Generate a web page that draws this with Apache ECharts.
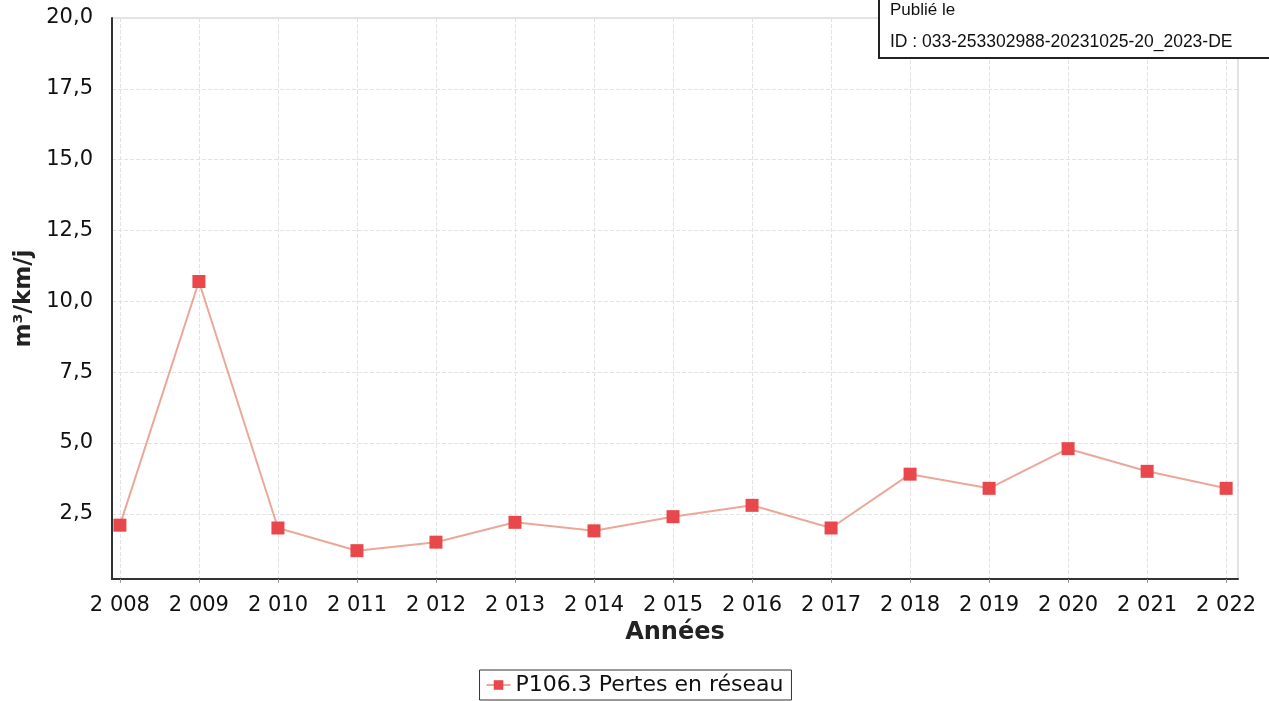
<!DOCTYPE html>
<html>
<head>
<meta charset="utf-8">
<script src="https://cdn.jsdelivr.net/npm/echarts@6/dist/echarts.min.js"></script>
<style>
  html, body { margin: 0; padding: 0; background: #fff; }
  #main { width: 1269px; height: 701px; }
</style>
</head>
<body>
<div id="main"></div>
<script>
var years = [2008, 2009, 2010, 2011, 2012, 2013, 2014, 2015, 2016, 2017, 2018, 2019, 2020, 2021, 2022];
var pertes = [2.1, 10.7, 2.0, 1.2, 1.5, 2.2, 1.9, 2.4, 2.8, 2.0, 3.9, 3.4, 4.8, 4.0, 3.4];
var yTicks = [2.5, 5, 7.5, 10, 12.5, 15, 17.5, 20];

var chart = echarts.init(document.getElementById('main'));

var font = 'DejaVu Sans';

var option = {
  backgroundColor: '#fff',
  animation: false,
  grid: {
    left: 112,
    right: 31,
    top: 18,
    bottom: 122,
    show: true,
    borderColor: '#c8c8c8',
    borderWidth: 1
  },
  xAxis: {
    type: 'value',
    min: 2007.9,
    max: 2022.15,
    name: 'Années',
    nameLocation: 'middle',
    nameGap: 42,
    nameTextStyle: { fontFamily: font, fontSize: 24, fontWeight: 'bold', color: '#222' },
    axisLine: { show: true, lineStyle: { color: '#333', width: 2 } },
    axisTick: { show: true, customValues: years, length: 4, lineStyle: { color: '#999' } },
    axisLabel: {
      customValues: years,
      margin: 16,
      fontFamily: font,
      fontSize: 21,
      color: '#111',
      formatter: function (v) {
        var s = String(Math.round(v));
        return s.charAt(0) + ' ' + s.slice(1);
      }
    },
    splitLine: { show: true, lineStyle: { color: '#e2e2e2', type: 'dashed' } }
  },
  yAxis: {
    type: 'value',
    min: 0.2,
    max: 20,
    name: 'm³/km/j',
    nameLocation: 'middle',
    nameGap: 76,
    nameTextStyle: { fontFamily: font, fontSize: 23, fontWeight: 'bold', color: '#222' },
    axisLine: { show: true, lineStyle: { color: '#333', width: 2 } },
    axisTick: { show: false, customValues: yTicks },
    axisLabel: {
      customValues: yTicks,
      margin: 19,
      fontFamily: font,
      fontSize: 21,
      color: '#111',
      formatter: function (v) {
        return v.toFixed(1).replace('.', ',');
      }
    },
    splitLine: { show: true, lineStyle: { color: '#e2e2e2', type: 'dashed' } }
  },
  legend: {
    bottom: 1,
    left: 'center',
    padding: [4, 8, 4, 6],
    borderColor: '#333',
    borderWidth: 1,
    itemWidth: 24,
    itemHeight: 12,
    itemGap: 6,
    textStyle: { fontFamily: font, fontSize: 22, color: '#111' },
    data: ['P106.3 Pertes en réseau']
  },
  graphic: [
    {
      type: 'rect',
      z: 100,
      left: 878,
      top: -2,
      shape: { width: 400, height: 59 },
      style: { fill: '#fff', stroke: '#222', lineWidth: 2 }
    },
    {
      type: 'text',
      z: 101,
      left: 890,
      top: 2,
      style: { text: 'Publié le', fontFamily: 'Liberation Sans', fontSize: 17, fill: '#111' }
    },
    {
      type: 'text',
      z: 101,
      left: 890,
      top: 33,
      style: { text: 'ID : 033-253302988-20231025-20_2023-DE', fontFamily: 'Liberation Sans', fontSize: 17.5, fill: '#111' }
    }
  ],
  series: [{
    name: 'P106.3 Pertes en réseau',
    type: 'line',
    data: years.map(function (y, i) { return [y, pertes[i]]; }),
    symbol: 'rect',
    symbolSize: 13,
    itemStyle: { color: '#e8484c' },
    lineStyle: { color: '#eba898', width: 2 }
  }]
};

chart.setOption(option);
</script>
</body>
</html>
